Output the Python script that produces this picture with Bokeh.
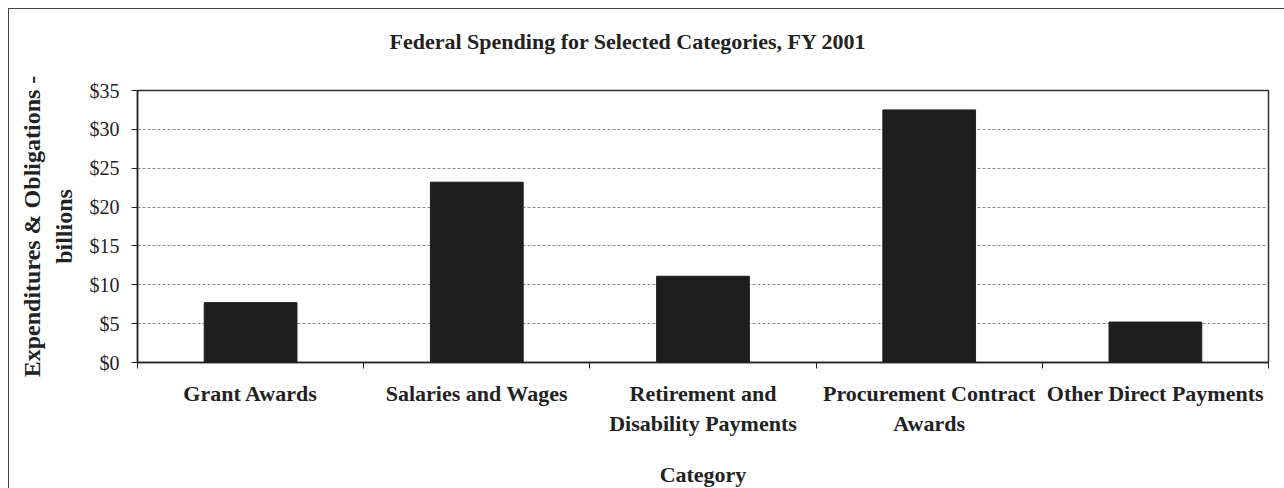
from bokeh.plotting import figure
from bokeh.models import FixedTicker
from bokeh.embed import file_html
from bokeh.resources import INLINE

categories = ["Grant Awards", "Salaries and Wages", "Retirement and\nDisability Payments",
              "Procurement Contract\nAwards", "Other Direct Payments"]
values = [7.7, 23.2, 11.1, 32.5, 5.2]
y_ticks = [0, 5, 10, 15, 20, 25, 30, 35]
y_tick_labels = ["$0", "$5", "$10", "$15", "$20", "$25", "$30", "$35"]
title_text = "Federal Spending for Selected Categories, FY 2001"

FONT = "Liberation Serif"
INK = "#222222"

p = figure(width=1276, height=480, x_range=(0, len(categories)), y_range=(0, 35),
           output_backend="svg", toolbar_location=None,
           min_border_left=128, min_border_right=17, min_border_top=81, min_border_bottom=121)

xs = [i + 0.5 for i in range(len(categories))]
p.vbar(x=xs, top=values, width=0.41, fill_color="#1e1e1e", line_color="#1e1e1e")

# title (trailing empty line lifts it further above the plot area)
p.title.text = title_text + "\n "
p.title.text_font = FONT
p.title.text_font_style = "bold"
p.title.text_font_size = "22px"
p.title.text_color = INK
p.title.align = "left"
p.title.offset = 252
p.title.standoff = 24

# x axis
p.xaxis.ticker = FixedTicker(ticks=xs, minor_ticks=list(range(len(categories) + 1)))
p.xaxis.major_label_overrides = {x: c for x, c in zip(xs, categories)}
p.xaxis.major_tick_out = 0
p.xaxis.major_tick_in = 0
p.xaxis.minor_tick_out = 6
p.xaxis.minor_tick_in = 0
p.xaxis.minor_tick_line_color = INK
p.xaxis.major_label_text_font = FONT
p.xaxis.major_label_text_font_style = "bold"
p.xaxis.major_label_text_font_size = "22px"
p.xaxis.major_label_text_color = INK
p.xaxis.major_label_standoff = 12
p.xaxis.axis_label = "Category"
p.xaxis.axis_label_text_font = FONT
p.xaxis.axis_label_text_font_style = "bold"
p.xaxis.axis_label_text_font_size = "22px"
p.xaxis.axis_label_text_color = INK
p.xaxis.axis_label_standoff = 23
p.xaxis.axis_line_color = INK
p.xaxis.axis_line_width = 1.5

# y axis
p.yaxis.ticker = FixedTicker(ticks=y_ticks)
p.yaxis.major_label_overrides = {t: l for t, l in zip(y_ticks, y_tick_labels)}
p.yaxis.minor_tick_line_color = None
p.yaxis.major_tick_out = 6
p.yaxis.major_tick_in = 0
p.yaxis.major_tick_line_color = INK
p.yaxis.major_label_text_font = FONT
p.yaxis.major_label_text_font_size = "20px"
p.yaxis.major_label_text_color = INK
p.yaxis.major_label_standoff = 12
p.yaxis.axis_label = "Expenditures & Obligations -\nbillions"
p.yaxis.axis_label_text_font = FONT
p.yaxis.axis_label_text_font_style = "bold"
p.yaxis.axis_label_text_font_size = "24px"
p.yaxis.axis_label_text_color = INK
p.yaxis.axis_label_standoff = 10
p.yaxis.axis_line_color = INK
p.yaxis.axis_line_width = 1.5

# grid
p.xgrid.grid_line_color = None
p.ygrid.grid_line_color = "#888888"
p.ygrid.grid_line_dash = "3 2"
p.ygrid.grid_line_width = 1

p.outline_line_color = "#333333"
p.outline_line_width = 1.5
p.background_fill_color = "white"
p.border_fill_color = "white"
p.styles = {"margin-left": "8px", "margin-top": "8px",
            "border-top": "1.5px solid #444", "border-left": "1.5px solid #444",
            "box-sizing": "border-box"}

open("out.html", "w").write(file_html(p, INLINE))
